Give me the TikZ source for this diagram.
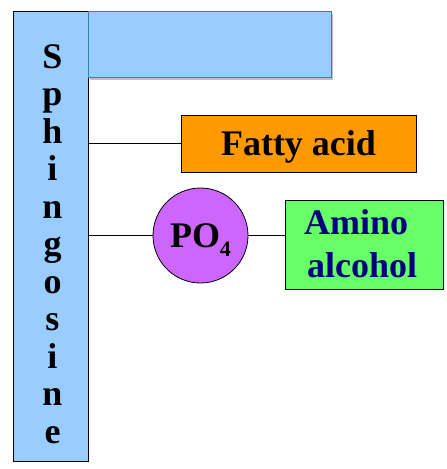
\documentclass[tikz,border=0pt]{standalone}
\usepackage{fontspec}
\setmainfont{Liberation Serif}
\usetikzlibrary{shadows}
\definecolor{barblue}{HTML}{99CCFF}
\definecolor{tealedge}{RGB}{49,133,156}
\definecolor{faorange}{HTML}{FF9900}
\definecolor{popurple}{HTML}{CC66FF}
\definecolor{amgreen}{HTML}{66FF66}
\definecolor{navytext}{HTML}{000080}
\tikzset{
  bigfont/.style={font=\fontsize{36}{40}\selectfont\bfseries},
  boxstyle/.style={draw=black, line width=0.8pt, inner sep=0pt},
  link/.style={draw=black, line width=0.8pt},
}
\begin{document}
\begin{tikzpicture}[x=1pt, y=-1pt]
\useasboundingbox[fill=white] (0,0) rectangle (447,469);
% Sphingosine bar
\node (bar) [boxstyle, fill=barblue, minimum width=75pt, minimum height=450pt, anchor=north west] at (13,11) {};
% top horizontal rectangle
\node (top) [draw=tealedge, line width=0.8pt, fill=barblue, inner sep=0pt, minimum width=243pt, minimum height=66pt, anchor=north west,
  drop shadow={shadow xshift=1.5pt, shadow yshift=-2.5pt, opacity=0.25, fill=black}] at (88,11) {};
% letters
\foreach \ch [count=\i from 0] in {S,p,h,i,n,g,o,s,i,n,e} {
  \node (l\i) [bigfont, anchor=base, inner sep=0pt] at (52.5, 68+37.5*\i) {\ch};
}
% Fatty acid
\node (fa) [boxstyle, fill=faorange, minimum width=235pt, minimum height=57pt, bigfont, text height=24pt, text depth=0pt] at (298.5,143.5) {Fatty acid};
% PO4 circle
\node (po) [circle, boxstyle, fill=popurple, minimum size=95pt, bigfont, text height=23pt, text depth=0pt] at (200.5,235.5) {PO\raisebox{-9pt}{\fontsize{22}{22}\selectfont 4}};
% Amino alcohol box
\node (am) [boxstyle, fill=amgreen, minimum width=158pt, minimum height=89pt, anchor=north west] at (285,200) {};
\node (am1) [bigfont, text=navytext, anchor=base west, inner sep=0pt] at (304,234) {Amino};
\node (am2) [bigfont, text=navytext, anchor=base west, inner sep=0pt] at (307,277) {alcohol};
% connectors
\draw[link] (bar.east |- fa.west) -- (fa.west);
\draw[link] (bar.east |- po.west) -- (po.west);
\draw[link] (po.east) -- (po.east -| am.west);
\end{tikzpicture}
\end{document}
